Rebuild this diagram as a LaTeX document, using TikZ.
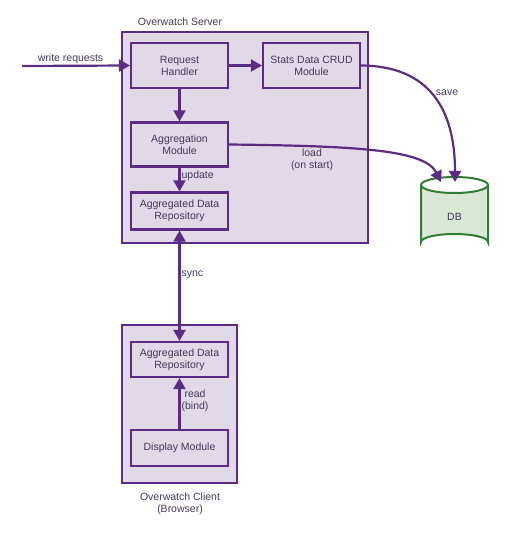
\documentclass[tikz,border=0pt]{standalone}
\usepackage{fontspec}
\setmainfont{Liberation Sans}
\usetikzlibrary{arrows.meta}
\definecolor{pstroke}{HTML}{5B2C83}
\definecolor{pfill}{HTML}{E1D9E8}
\definecolor{gstroke}{HTML}{2E7D32}
\definecolor{gfill}{HTML}{D8E8D5}
\definecolor{txt}{HTML}{45385A}
\begin{document}
\begin{tikzpicture}[x=1pt,y=-1pt,
  every node/.style={font=\fontsize{10.5pt}{12pt}\selectfont, text=txt, align=center},
  container/.style={draw=pstroke, fill=pfill, line width=2.2pt},
  module/.style={draw=pstroke, fill=pfill, line width=2.2pt, minimum width=97pt, inner sep=0pt},
  conn/.style={draw=pstroke, line width=2.2pt, -{Triangle[length=11pt,width=12pt]}},
  lbl/.style={inner sep=1pt}]
\useasboundingbox (0,0) rectangle (505,534);
% containers
\node[container, minimum width=246pt, minimum height=211pt, inner sep=0pt] (server) at (245,137.5) {};
\node[container, minimum width=115pt, minimum height=158pt, inner sep=0pt] (client) at (179.5,404) {};
\node (serverlbl) at (180,22) {Overwatch Server};
\node (clientlbl) at (180,504) {Overwatch Client\\(Browser)};
% modules
\node[module, minimum height=45pt] (rh) at (179.5,65.5) {Request\\Handler};
\node[module, minimum height=45pt] (stats) at (311.5,65.5) {Stats Data CRUD\\Module};
\node[module, minimum height=44pt] (agg) at (179.5,144.5) {Aggregation\\Module};
\node[module, minimum height=37pt] (srepo) at (179.5,211) {Aggregated Data\\Repository};
\node[module, minimum height=35pt] (crepo) at (179.5,359.5) {Aggregated Data\\Repository};
\node[module, minimum height=36pt] (disp) at (179.5,448) {Display Module};
% DB cylinder
\node[minimum width=67pt, minimum height=73pt, inner sep=0pt] (db) at (454.5,213.5) {};
\fill[gfill] (421,185) -- (421,242) arc[start angle=180,end angle=360,x radius=33.5,y radius=8]
  -- (488,185) arc[start angle=0,end angle=180,x radius=33.5,y radius=8] -- cycle;
\draw[gstroke, line width=2pt] (421,185) -- (421,242) arc[start angle=180,end angle=360,x radius=33.5,y radius=8]
  -- (488,185) arc[start angle=0,end angle=-180,x radius=33.5,y radius=8]
  arc[start angle=180,end angle=0,x radius=33.5,y radius=8];
\node (dbtxt) at (454.5,217) {DB};
\coordinate (dbin1) at (441,182);
\coordinate (dbin2) at (455,182);
% connectors
\coordinate (wstart) at (22,66);
\draw[conn] (wstart) -- node[lbl, above, pos=0.45] {write requests} (rh.west);
\draw[conn] (rh.east) -- (stats.west);
\draw[conn] (rh.south) -- (agg.north);
\draw[conn] (agg.south) -- node[lbl, right, pos=0.35] {update} (srepo.north);
\draw[conn] (stats.east) .. controls (430,66) and (455,110) .. (dbin2);
\node (savelbl) at (447,93) {save};
\draw[conn] (agg.east) .. controls (360,146) and (425,150) .. (dbin1);
\node (loadlbl) at (312,160) {load\\(on start)};
\draw[conn, {Triangle[length=11pt,width=12pt]}-{Triangle[length=11pt,width=12pt]}] (srepo.south) -- node[lbl, right, pos=0.4] {sync} (crepo.north);
\draw[conn] (disp.north) -- node[lbl, right, pos=0.55] {read\\(bind)} (crepo.south);
\end{tikzpicture}
\end{document}
